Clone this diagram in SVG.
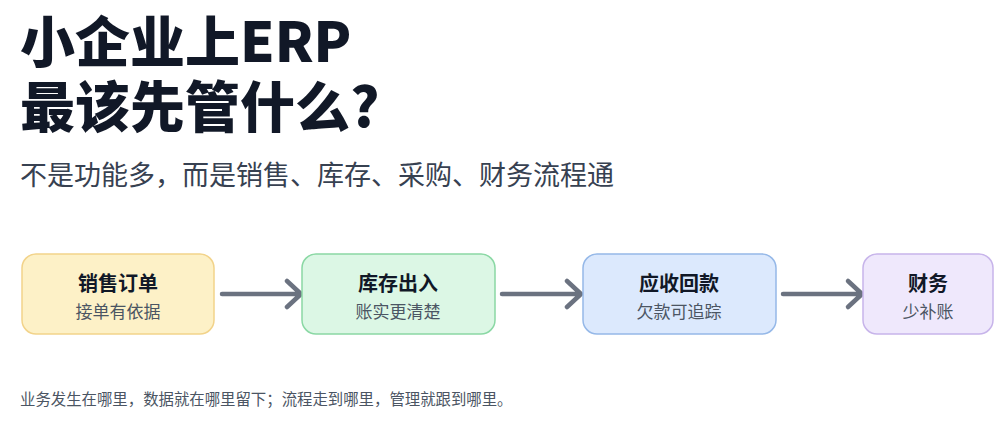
<svg xmlns="http://www.w3.org/2000/svg" width="1000" height="427" viewBox="0 0 1000 427">
<style>
.t{font-family:"Noto Sans CJK SC","Noto Sans",sans-serif;}
.h1{font-size:55px;font-weight:900;fill:#111827;}
.sub{font-size:27px;fill:#374151;}
.nt{font-size:20px;font-weight:700;fill:#111827;text-anchor:middle;}
.ns{font-size:17px;fill:#4b5563;text-anchor:middle;}
.foot{font-size:15.4px;fill:#4b5563;}
.conn{stroke:#6b7280;stroke-width:4.5;fill:none;stroke-linecap:round;stroke-linejoin:round;}
</style>
<rect width="1000" height="427" fill="#ffffff"/>
<text class="t h1" x="20" y="62">小企业上ERP</text>
<text class="t h1" x="20" y="127">最该先管什么?</text>
<text class="t sub" x="20" y="185">不是功能多，而是销售、库存、采购、财务流程通</text>
<g id="connectors">
<path class="conn" d="M222 294H300M287 281L301 294L287 307"/>
<path class="conn" d="M502 294H580M567 281L581 294L567 307"/>
<path class="conn" d="M783 294H861M848 281L862 294L848 307"/>
</g>
<g id="n1"><rect x="22" y="254" width="192" height="80" rx="14" fill="#fdf1c7" stroke="#f2d38a" stroke-width="1.5"/><text class="t nt" x="118" y="291">销售订单</text><text class="t ns" x="118" y="318">接单有依据</text></g>
<g id="n2"><rect x="302" y="254" width="193" height="80" rx="14" fill="#dcf7e5" stroke="#8ad8a4" stroke-width="1.5"/><text class="t nt" x="398" y="291">库存出入</text><text class="t ns" x="398" y="318">账实更清楚</text></g>
<g id="n3"><rect x="583" y="254" width="193" height="80" rx="14" fill="#dce9fd" stroke="#95b8e8" stroke-width="1.5"/><text class="t nt" x="679" y="291">应收回款</text><text class="t ns" x="679" y="318">欠款可追踪</text></g>
<g id="n4"><rect x="863" y="254" width="130" height="80" rx="14" fill="#efe8fc" stroke="#c7b4ea" stroke-width="1.5"/><text class="t nt" x="928" y="291">财务</text><text class="t ns" x="928" y="318">少补账</text></g>
<text class="t foot" x="20" y="405">业务发生在哪里，数据就在哪里留下；流程走到哪里，管理就跟到哪里。</text>
</svg>
